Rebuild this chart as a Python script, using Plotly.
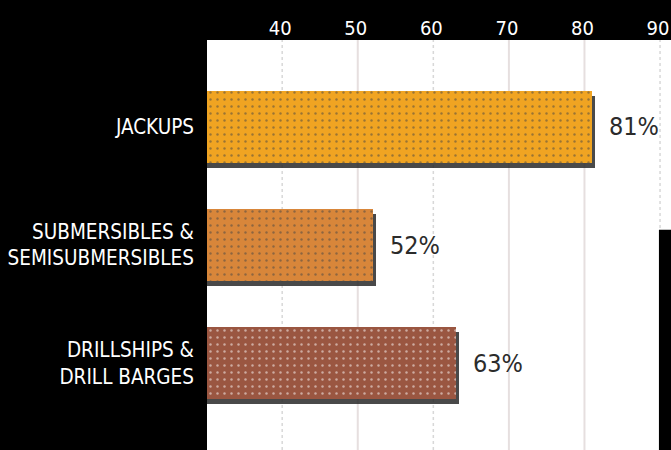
import plotly.graph_objects as go

# datos
categorias = ['JACKUPS', 'SUBMERSIBLES &<br>SEMISUBMERSIBLES', 'DRILLSHIPS &<br>DRILL BARGES']
valores = [81, 52, 63]
etiquetas = ['81%', '52%', '63%']
colores = ['#F0A422', '#D8863A', '#9A5641']
puntos = ['#F5B636', '#E09248', '#A4614B']
ticks_solidos = [50, 70, 80]
ticks_punteados = [40, 60, 90]
ticks = [40, 50, 60, 70, 80, 90]

FUENTE = 'DejaVu Sans Condensed, Liberation Sans Narrow, Roboto, Arial, sans-serif'
ANCHO = 0.61

fig = go.Figure()

# sombra
fig.add_trace(go.Bar(
    y=categorias,
    x=[v + 0.45 for v in valores],
    orientation='h',
    marker=dict(color='#2a2a2a', line=dict(width=0)),
    opacity=0.85,
    width=ANCHO,
    offset=-ANCHO / 2 + 0.042,
    hoverinfo='skip',
    showlegend=False,
))

# barras
fig.add_trace(go.Bar(
    y=categorias,
    x=valores,
    orientation='h',
    marker=dict(
        color=colores,
        line=dict(width=0),
        pattern=dict(shape='.', fgcolor=puntos, size=7, solidity=0.1),
    ),
    width=ANCHO,
    offset=-ANCHO / 2,
    hovertemplate='%{y}: %{x}%<extra></extra>',
    showlegend=False,
))

# lineas de guia
for t in ticks_solidos:
    fig.add_vline(x=t, line_color='#E6DFDF', line_width=2, layer='below')
for t in ticks_punteados:
    fig.add_vline(x=t, line_color='#D8D8D8', line_width=1.5, line_dash='dot', layer='below')

# etiquetas de porcentaje
for cat, v, txt in zip(categorias, valores, etiquetas):
    fig.add_annotation(
        x=v, y=cat, text=txt, showarrow=False,
        xanchor='left', xshift=15,
        font=dict(family=FUENTE, size=25, color='#2b2b2b'),
    )

# bloque negro a la derecha
fig.add_shape(type='rect', xref='paper', yref='paper',
              x0=0.974, x1=1.0, y0=0, y1=0.537,
              fillcolor='black', line_width=0, layer='above')

fig.update_layout(
    width=671, height=450,
    paper_bgcolor='black',
    plot_bgcolor='white',
    margin=dict(l=207, r=0, t=40, b=0),
    barmode='overlay',
    bargap=0,
    font=dict(family=FUENTE, color='white'),
    xaxis=dict(
        side='top',
        range=[30.05, 91.45],
        tickvals=ticks,
        ticktext=[str(t) for t in ticks],
        showgrid=False, zeroline=False, showline=False,
        ticks='',
        ticklabeloverflow='allow',
        ticklabelshift=-2,
        tickfont=dict(family=FUENTE, size=20, color='white'),
        fixedrange=True,
    ),
    yaxis=dict(
        range=[2.737, -0.737],
        showgrid=False, zeroline=False, showline=False,
        ticks='',
        ticklabelstandoff=12,
        tickfont=dict(family=FUENTE, size=20.5, color='white'),
        fixedrange=True,
    ),
)

fig.write_html("out.html", config={'displayModeBar': False},
               post_script="document.body.style.margin='0';document.body.style.background='black';")
